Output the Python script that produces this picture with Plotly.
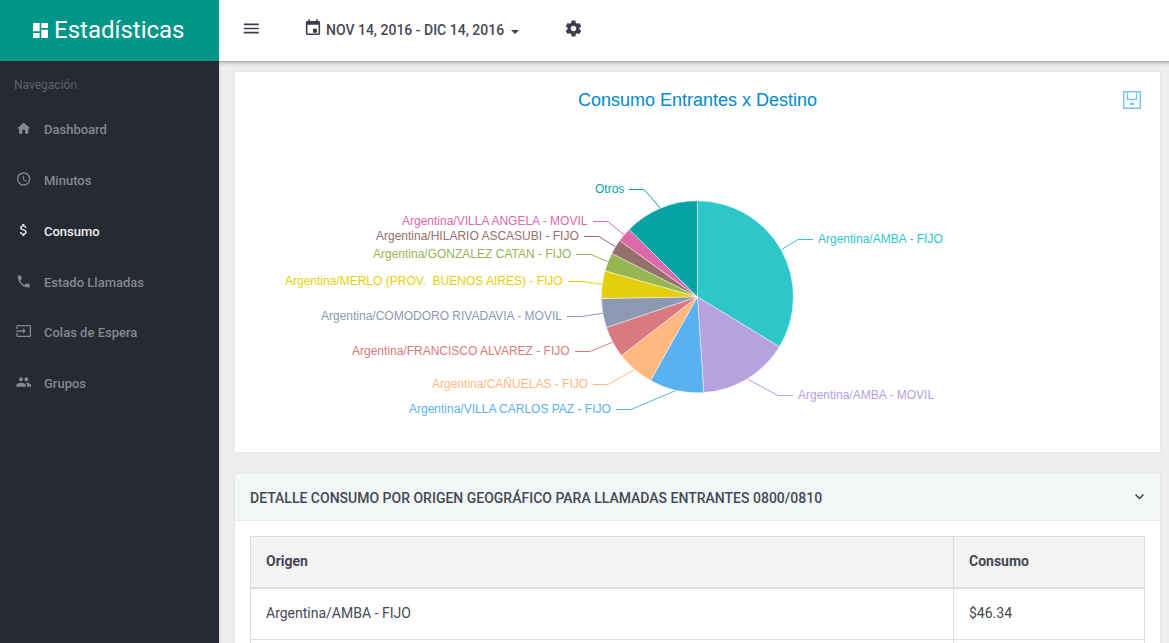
import math, re
import plotly.graph_objects as go

# ---- data ----
labels = ["Argentina/AMBA - FIJO", "Argentina/AMBA - MOVIL", "Argentina/VILLA CARLOS PAZ - FIJO",
          "Argentina/CAÑUELAS - FIJO", "Argentina/FRANCISCO ALVAREZ - FIJO",
          "Argentina/COMODORO RIVADAVIA - MOVIL", "Argentina/MERLO (PROV.  BUENOS AIRES) - FIJO",
          "Argentina/GONZALEZ CATAN - FIJO", "Argentina/HILARIO ASCASUBI - FIJO",
          "Argentina/VILLA ANGELA - MOVIL", "Otros"]
values = [46.34, 20.97, 12.6, 8.8, 7.3, 6.72, 6.38, 4.28, 3.44, 3.32, 17.34]
colors = ["#2EC7C9", "#B6A2DE", "#5AB1EF", "#FFB980", "#D87A80", "#8D98B3",
          "#E5CF0D", "#97B552", "#95706D", "#DC69AA", "#07A2A4"]
title = "Consumo Entrantes x Destino"
menu_items = ["Dashboard", "Minutos", "Consumo", "Estado Llamadas", "Colas de Espera", "Grupos"]
table_head = ["Origen", "Consumo"]
table_row = ["Argentina/AMBA - FIJO", "$46.34"]

# ---- layout constants ----
W, H = 1169, 643
CX, CY, R = 697.4, 296.8, 96
label_edge_x = [818, 798, 611, 588, 570, 562, 563, 571, 579, 588, 624]
label_y = [239, 395, 409, 384, 351, 316, 281, 254, 236, 221, 189]
R_LABEL = "Liberation Sans, Arial, sans-serif"
F = "Roboto, sans-serif"
BG, SIDE, TEAL, DARK = "#EEEEEE", "#262A33", "#009688", "#3B3E4C"
SOFT = "#454855"
MUTED = "#85888E"
LINE = "#DDDDDD"

shapes, notes = [], []


def rect(x0, y0, x1, y1, fill, line=None, lw=1):
    shapes.append(dict(type="rect", x0=x0, y0=y0, x1=x1, y1=y1, xref="x", yref="y", fillcolor=fill,
                       line=dict(color=line or "rgba(0,0,0,0)", width=lw if line else 0), layer="below"))


def hline(x0, y0, x1, y1, color, lw=1, layer="below"):
    shapes.append(dict(type="line", x0=x0, y0=y0, x1=x1, y1=y1, xref="x", yref="y",
                       line=dict(color=color, width=lw), layer=layer))


def text(x, y, s, size, color, anchor="left", family=F, weight=400):
    notes.append(dict(x=x, y=y, xref="x", yref="y", text=s, showarrow=False, xanchor=anchor, yanchor="middle",
                      borderpad=0, font=dict(family=family, size=size, color=color, weight=weight)))


def icon(d, cx, cy, size, color):
    """Scale a 24-unit SVG icon path into page pixels around a centre."""
    k = size / 24.0
    toks = re.findall(r"[MmLlHhVvCcSsQqZz]|-?\d*\.?\d+", d)
    i, x, y, sx, sy, cmd = 0, 0.0, 0.0, 0.0, 0.0, ""
    lcx, lcy = None, None
    out = []

    def P(a, b):
        return f"{cx + (a - 12) * k:.2f},{cy + (b - 12) * k:.2f}"

    def num():
        nonlocal i
        v = float(toks[i]); i += 1
        return v

    while i < len(toks):
        if re.match(r"[A-Za-z]", toks[i]):
            cmd = toks[i]; i += 1
            if cmd in "Zz":
                out.append("Z"); x, y = sx, sy; lcx = None
                continue
        rel = cmd.islower()
        c = cmd.upper()
        bx, by = (x, y) if rel else (0, 0)
        if c == "M":
            x, y = bx + num(), by + num(); sx, sy = x, y
            out.append("M" + P(x, y)); cmd = "l" if rel else "L"; lcx = None
        elif c == "L":
            x, y = bx + num(), by + num(); out.append("L" + P(x, y)); lcx = None
        elif c == "H":
            x = bx + num(); out.append("L" + P(x, y)); lcx = None
        elif c == "V":
            y = by + num(); out.append("L" + P(x, y)); lcx = None
        elif c == "C":
            a, b, e, f, g, h = bx + num(), by + num(), bx + num(), by + num(), bx + num(), by + num()
            out.append("C" + P(a, b) + " " + P(e, f) + " " + P(g, h)); lcx, lcy = e, f; x, y = g, h
        elif c == "S":
            e, f, g, h = bx + num(), by + num(), bx + num(), by + num()
            a, b = (2 * x - lcx, 2 * y - lcy) if lcx is not None else (x, y)
            out.append("C" + P(a, b) + " " + P(e, f) + " " + P(g, h)); lcx, lcy = e, f; x, y = g, h
    shapes.append(dict(type="path", path=" ".join(out), xref="x", yref="y", fillcolor=color,
                       line=dict(width=0), layer="below"))


ICON = dict(
    dashboard="M3 13h8V3H3v10zm0 8h8v-6H3v6zm10 0h8V11h-8v10zm0-18v6h8V3h-8z",
    menu="M3 18h18v-2H3v2zm0-5h18v-2H3v2zm0-7v2h18V6H3z",
    event="M5 3H6V1H8V3H16V1H18V3H19C20.1 3 21 3.9 21 5V19C21 20.1 20.1 21 19 21H5C3.9 21 3 20.1 3 19V5C3 3.9 3.9 3 5 3ZM5 8V19H19V8ZM12 13V18H17V13Z",
    settings="M19.43 12.98c.04-.32.07-.64.07-.98s-.03-.66-.07-.98l2.11-1.65c.19-.15.24-.42.12-.64l-2-3.46c-.12-.22-.39-.3-.61-.22l-2.49 1c-.52-.4-1.08-.73-1.69-.98l-.38-2.65C14.46 2.18 14.25 2 14 2h-4c-.25 0-.46.18-.49.42l-.38 2.65c-.61.25-1.17.59-1.69.98l-2.49-1c-.23-.09-.49 0-.61.22l-2 3.46c-.13.22-.07.49.12.64l2.11 1.65c-.04.32-.07.65-.07.98s.03.66.07.98l-2.11 1.65c-.19.15-.24.42-.12.64l2 3.46c.12.22.39.3.61.22l2.49-1c.52.4 1.08.73 1.69.98l.38 2.65c.03.24.24.42.49.42h4c.25 0 .46-.18.49-.42l.38-2.65c.61-.25 1.17-.59 1.69-.98l2.49 1c.23.09.49 0 .61-.22l2-3.46c.12-.22.07-.49-.12-.64l-2.11-1.65zM12 15.5c-1.93 0-3.5-1.57-3.5-3.5s1.57-3.5 3.5-3.5 3.5 1.57 3.5 3.5-1.57 3.5-3.5 3.5z",
    home="M10 20v-6h4v6h5v-8h3L12 3 2 12h3v8z",
    clock="M11.99 2C6.47 2 2 6.48 2 12s4.47 10 9.99 10C17.52 22 22 17.52 22 12S17.52 2 11.99 2zM12 20c-4.42 0-8-3.58-8-8s3.58-8 8-8 8 3.58 8 8-3.58 8-8 8zM12.5 7H11v6l5.25 3.15.75-1.23-4.5-2.67z",
    money="M11.8 10.9c-2.27-.59-3-1.2-3-2.15 0-1.09 1.01-1.85 2.7-1.85 1.78 0 2.44.85 2.5 2.1h2.21c-.07-1.72-1.12-3.3-3.21-3.81V3h-3v2.16c-1.94.42-3.5 1.68-3.5 3.61 0 2.31 1.91 3.46 4.7 4.13 2.5.6 3 1.48 3 2.41 0 .69-.49 1.79-2.7 1.79-2.06 0-2.87-.92-2.98-2.1h-2.2c.12 2.19 1.76 3.42 3.68 3.83V21h3v-2.15c1.95-.37 3.5-1.5 3.5-3.55 0-2.84-2.43-3.81-4.7-4.4z",
    phone="M6.62 10.79c1.44 2.83 3.76 5.14 6.59 6.59l2.2-2.2c.27-.27.67-.36 1.02-.24 1.12.37 2.33.57 3.57.57.55 0 1 .45 1 1V20c0 .55-.45 1-1 1-9.39 0-17-7.61-17-17 0-.55.45-1 1-1h3.5c.55 0 1 .45 1 1 0 1.25.2 2.45.57 3.57.11.35.03.74-.25 1.02l-2.2 2.2z",
    input="M21 3.01H3c-1.1 0-2 .9-2 2V9h2V4.99h18v14.03H3V15H1v4.01c0 1.1.9 1.98 2 1.98h18c1.1 0 2-.88 2-1.98v-14c0-1.11-.9-2-2-2zM11 16l4-4-4-4v3H1v2h10v3z",
    group="M16 11c1.66 0 2.99-1.34 2.99-3S17.66 5 16 5c-1.66 0-3 1.34-3 3s1.34 3 3 3zm-8 0c1.66 0 2.99-1.34 2.99-3S9.66 5 8 5C6.34 5 5 6.34 5 8s1.34 3 3 3zm0 2c-2.33 0-7 1.17-7 3.5V19h14v-2.5c0-2.33-4.67-3.5-7-3.5zm8 0c-.29 0-.62.02-.97.05 1.16.84 1.97 1.97 1.97 3.45V19h6v-2.5c0-2.33-4.67-3.5-7-3.5z",
    chevron="M16.59 8.59L12 13.17 7.41 8.59 6 10l6 6 6-6z",
)

# ---- page chrome ----
rect(219, 0, W, H, BG)
# panels with their soft edge
for (x0, y0, x1, y1) in [(235, 72, 1160, 452), (235, 474, 1160, 643)]:
    rect(x0 - 2, y0 - 2, x1 + 2, min(y1 + 2, H), "#E9EBEB")
    rect(x0, y0, x1, y1, "#FFFFFF")
rect(235, 474, 1160, 520, "#F1F7F7")
hline(235, 520.5, 1160, 520.5, "#E6ECEC")
# top bar and its shadow
for k, a in enumerate([.24, .16, .10, .06, .03, .015]):
    rect(219, 61 + k, W, 62 + k, f"rgba(0,0,0,{a})")
rect(219, 0, W, 61, "#FFFFFF")
# sidebar
for k, a in enumerate([.05, .03, .015]):
    rect(219 + k, 61, 220 + k, H, f"rgba(0,0,0,{a})")
rect(0, 0, 219, H, SIDE)
rect(0, 0, 219, 61, TEAL)

icon(ICON["dashboard"], 40.5, 30.5, 20, "#FFFFFF")
text(53, 30, "Estadísticas", 24, "#FFFFFF")
text(13, 85, "Navegación", 12, "#5D6168")
menu_y = [129.5, 180.5, 231.5, 282.5, 332.5, 383.5]
menu_icons = ["home", "clock", "money", "phone", "input", "group"]
icon_y = [128.5, 179, 230, 281.5, 331, 382]
for name, y, ic, iy in zip(menu_items, menu_y, menu_icons, icon_y):
    col = "#EDEEF0" if name == "Consumo" else MUTED
    icon(ICON[ic], 23.7, iy, 16, col)
    text(43, y, name, 13, col, weight=500)

icon(ICON["menu"], 251.3, 28.5, 20, DARK)
icon(ICON["event"], 313, 28, 19, DARK)
text(325, 30, "NOV 14, 2016 - DIC 14, 2016", 14, SOFT, weight=500)
shapes.append(dict(type="path", path="M511,30 L519,30 L515,34 Z", xref="x", yref="y", fillcolor=DARK,
                   line=dict(width=0), layer="below"))
icon(ICON["settings"], 573.5, 28.5, 19, DARK)

# save icon
SAVE = "#7FBDFB"
rect(1123.7, 91.7, 1140.3, 108.3, "rgba(0,0,0,0)", SAVE, 1.4)
shapes.append(dict(type="path", path="M1127.5,92 L1127.5,99.5 L1136.5,99.5 L1136.5,92", xref="x", yref="y",
                   line=dict(color=SAVE, width=1.3), layer="below"))
rect(1130, 102.6, 1134, 105, SAVE)

# chart title
text(697.5, 100, title, 18, "#008ACD", anchor="center", family=R_LABEL)

# detail panel
text(249, 497, "DETALLE CONSUMO POR ORIGEN GEOGRÁFICO PARA LLAMADAS ENTRANTES 0800/0810", 14, SOFT, weight=500)
icon(ICON["chevron"], 1139.5, 496.5, 18, DARK)
rect(250.5, 536.5, 1144.5, 588, "#F4F4F4")
for seg in [(250.5, 536.5, 1144.5, 536.5), (250.5, 536.5, 250.5, 643), (953.5, 536.5, 953.5, 643),
            (1144.5, 536.5, 1144.5, 643), (250.5, 639.5, 1144.5, 639.5)]:
    hline(*seg, LINE, 1)
hline(250.5, 588, 1144.5, 588, LINE, 2)
text(265, 561, table_head[0], 14, SOFT, weight=700)
text(968, 561, table_head[1], 14, SOFT, weight=700)
text(265, 613, table_row[0], 14, SOFT)
text(968, 613, table_row[1], 14, SOFT)

# leader lines and outside labels are derived from the slice values
total = sum(values)
acc = 0.0
for lab, v, col, ex, ly in zip(labels, values, colors, label_edge_x, label_y):
    mid = math.radians((acc + v / 2) / total * 360)
    acc += v
    sx = CX + R * math.sin(mid)
    sy = CY - R * math.cos(mid)
    right = math.sin(mid) > 0
    sgn = 1 if right else -1
    stub_end = ex - sgn * 5
    elbow = ex - sgn * 20
    shapes.append(dict(type="path", path=f"M{sx:.1f},{sy:.1f} L{elbow},{ly + .5} L{stub_end},{ly + .5}",
                       xref="x", yref="y", line=dict(color=col, width=1), layer="below"))
    text(ex - sgn * 0.8, ly + 0.2, lab, 12, col, anchor="left" if right else "right", family=R_LABEL)

pie = go.Pie(labels=labels, values=values, sort=False, direction="clockwise", rotation=0,
             marker=dict(colors=colors, line=dict(color="rgba(255,255,255,.75)", width=.6)),
             textinfo="none", hoverinfo="label+value+percent", showlegend=False,
             domain=dict(x=[(CX - R) / W, (CX + R) / W], y=[1 - (CY + R) / H, 1 - (CY - R) / H]))

fig = go.Figure(pie)
fig.update_layout(width=W, height=H, margin=dict(l=0, r=0, t=0, b=0), paper_bgcolor=BG, plot_bgcolor=BG,
                  xaxis=dict(range=[0, W], visible=False, fixedrange=True),
                  yaxis=dict(range=[H, 0], visible=False, fixedrange=True),
                  shapes=shapes, annotations=notes, showlegend=False)
# an invisible trace keeps the pixel axes alive next to the pie
fig.add_trace(go.Scatter(x=[0, W], y=[0, H], mode="markers", marker=dict(opacity=0), hoverinfo="skip", showlegend=False))
fig.write_html("out.html", config=dict(displayModeBar=False),
               post_script="document.body.style.margin='0';document.body.style.overflow='hidden';")
